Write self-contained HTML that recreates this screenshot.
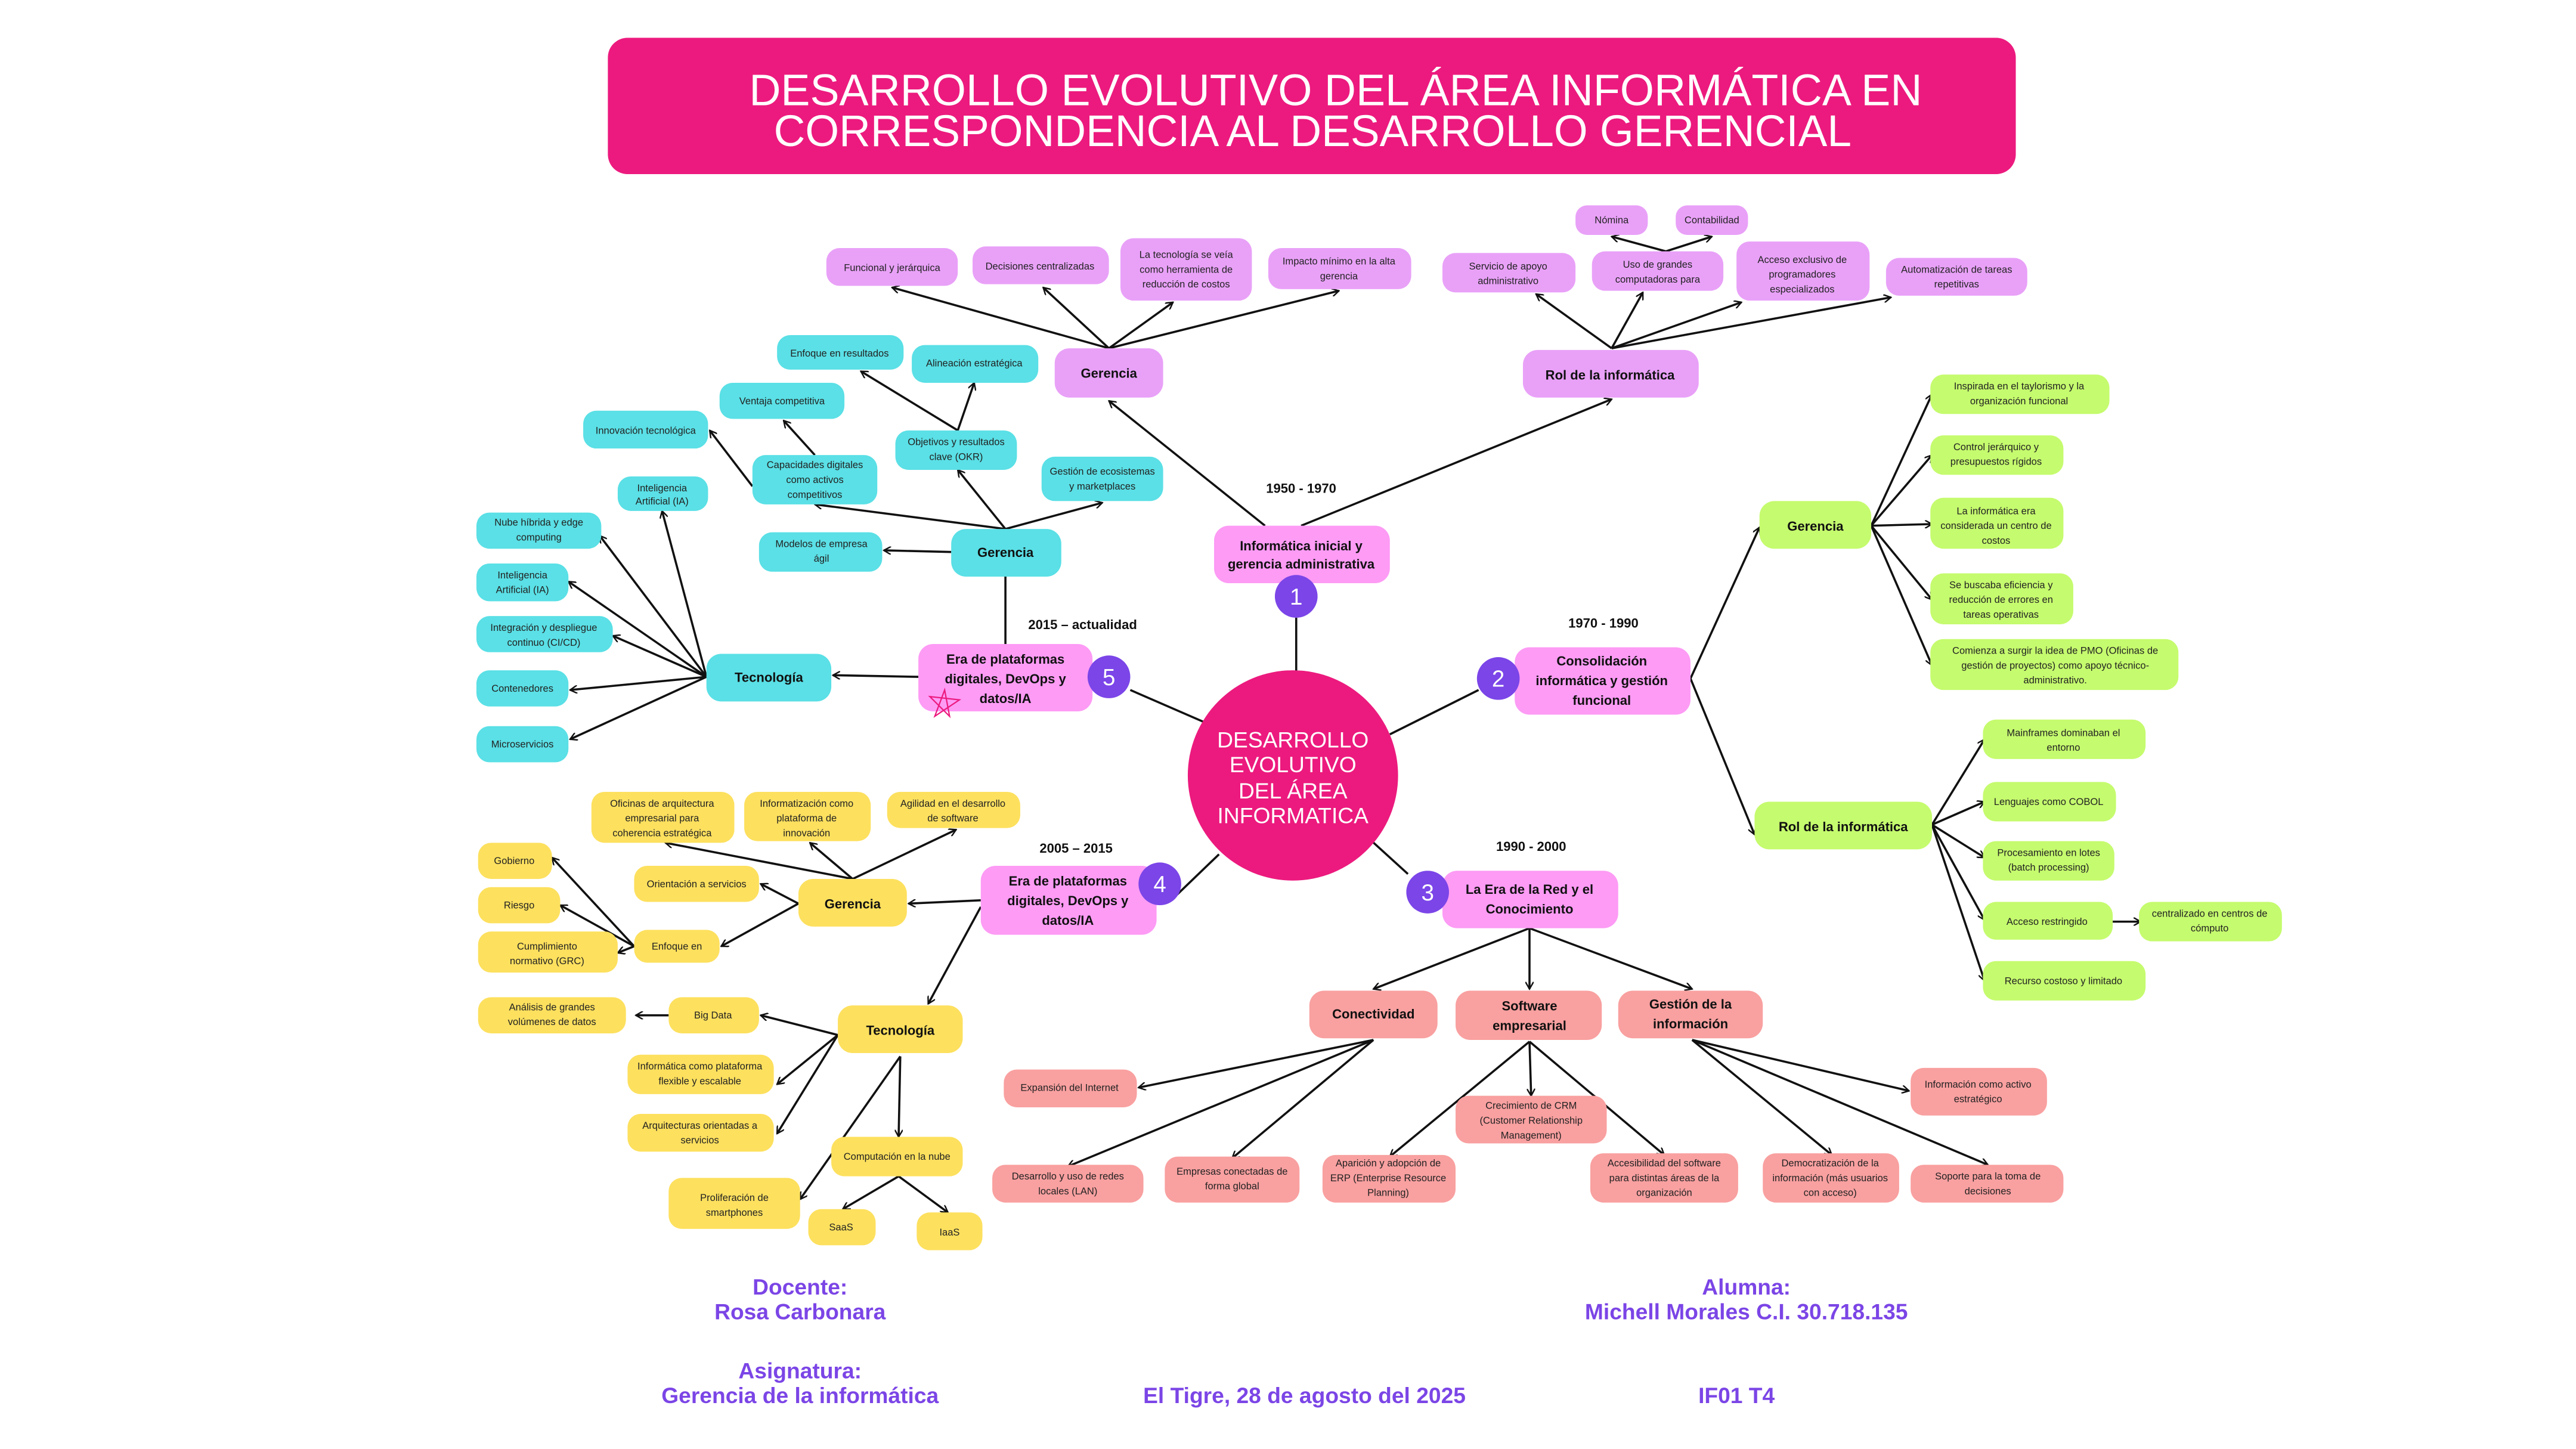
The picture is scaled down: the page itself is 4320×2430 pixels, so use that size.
<!DOCTYPE html>
<html><head><meta charset="utf-8"><style>
html,body{margin:0;padding:0;background:#fff;width:4320px;height:2430px;overflow:hidden}
svg{display:block}
text{font-family:"Liberation Sans",sans-serif;text-anchor:middle}
.s{font-size:6px;fill:#222}
.b{font-size:8px;font-weight:bold;fill:#111}
.n{font-size:11px;fill:#fff;font-weight:bold}
.f{font-size:13.5px;font-weight:bold;fill:#7b45e6}
line,path.c{stroke:#111;stroke-width:1.3;fill:none}
</style></head><body>
<svg width="4320" height="2430" viewBox="0 0 1568 882" xmlns="http://www.w3.org/2000/svg">
<defs><marker id="a" viewBox="0 0 8 8" refX="7" refY="4" markerWidth="5" markerHeight="5" orient="auto" markerUnits="userSpaceOnUse"><path d="M0,0 L7,4 L0,8" fill="none" stroke="#111" stroke-width="1.4"/></marker></defs>
<rect width="1568" height="882" fill="#fff"/>
<rect x="370" y="23" width="857" height="83" rx="12" fill="#ec1a7e"/>
<text x="813" y="64" style="font-size:27px;fill:#fff" textLength="714" lengthAdjust="spacingAndGlyphs">DESARROLLO EVOLUTIVO DEL ÁREA INFORMÁTICA EN</text>
<text x="799" y="89" style="font-size:27px;fill:#fff" textLength="656" lengthAdjust="spacingAndGlyphs">CORRESPONDENCIA AL DESARROLLO GERENCIAL</text>

<g>
<line x1="789" y1="376" x2="789" y2="414"/>
<line x1="846" y1="447" x2="900" y2="420"/>
<line x1="835" y1="512" x2="857" y2="532"/>
<line x1="742" y1="520" x2="716" y2="545"/>
<line x1="734" y1="440" x2="688" y2="420"/>
<line x1="770" y1="320" x2="675" y2="244" marker-end="url(#a)"/>
<line x1="792" y1="320" x2="981" y2="243" marker-end="url(#a)"/>
<line x1="675" y1="212" x2="543" y2="175" marker-end="url(#a)"/>
<line x1="675" y1="212" x2="635" y2="175" marker-end="url(#a)"/>
<line x1="675" y1="212" x2="714" y2="184" marker-end="url(#a)"/>
<line x1="675" y1="212" x2="815" y2="177" marker-end="url(#a)"/>
<line x1="981" y1="212" x2="935" y2="179" marker-end="url(#a)"/>
<line x1="981" y1="212" x2="1000" y2="178" marker-end="url(#a)"/>
<line x1="981" y1="212" x2="1060" y2="184" marker-end="url(#a)"/>
<line x1="981" y1="212" x2="1151" y2="181" marker-end="url(#a)"/>
<line x1="1014" y1="153" x2="981" y2="144" marker-end="url(#a)"/>
<line x1="1014" y1="153" x2="1042" y2="144" marker-end="url(#a)"/>
<line x1="1029" y1="413" x2="1071" y2="321" marker-end="url(#a)"/>
<line x1="1029" y1="413" x2="1068" y2="508" marker-end="url(#a)"/>
<line x1="1139" y1="320" x2="1176" y2="240" marker-end="url(#a)"/>
<line x1="1139" y1="320" x2="1176" y2="277" marker-end="url(#a)"/>
<line x1="1139" y1="320" x2="1176" y2="319" marker-end="url(#a)"/>
<line x1="1139" y1="320" x2="1176" y2="365" marker-end="url(#a)"/>
<line x1="1139" y1="320" x2="1176" y2="405" marker-end="url(#a)"/>
<line x1="1176" y1="502" x2="1208" y2="450" marker-end="url(#a)"/>
<line x1="1176" y1="502" x2="1208" y2="488" marker-end="url(#a)"/>
<line x1="1176" y1="502" x2="1208" y2="522" marker-end="url(#a)"/>
<line x1="1176" y1="502" x2="1208" y2="560" marker-end="url(#a)"/>
<line x1="1176" y1="502" x2="1208" y2="597" marker-end="url(#a)"/>
<line x1="1286" y1="561" x2="1303" y2="561" marker-end="url(#a)"/>
<line x1="931" y1="565" x2="836" y2="602" marker-end="url(#a)"/>
<line x1="931" y1="565" x2="931" y2="602" marker-end="url(#a)"/>
<line x1="931" y1="565" x2="1030" y2="602" marker-end="url(#a)"/>
<line x1="836" y1="633" x2="693" y2="662" marker-end="url(#a)"/>
<line x1="836" y1="633" x2="650" y2="710" marker-end="url(#a)"/>
<line x1="836" y1="633" x2="750" y2="705" marker-end="url(#a)"/>
<line x1="931" y1="634" x2="932" y2="667" marker-end="url(#a)"/>
<line x1="931" y1="634" x2="846" y2="704" marker-end="url(#a)"/>
<line x1="931" y1="634" x2="1013" y2="703" marker-end="url(#a)"/>
<line x1="1030" y1="633" x2="1115" y2="703" marker-end="url(#a)"/>
<line x1="1030" y1="633" x2="1210" y2="709" marker-end="url(#a)"/>
<line x1="1030" y1="633" x2="1162" y2="664" marker-end="url(#a)"/>
<line x1="597" y1="548" x2="553" y2="550" marker-end="url(#a)"/>
<line x1="597" y1="552" x2="565" y2="611" marker-end="url(#a)"/>
<line x1="519" y1="535" x2="405" y2="513" marker-end="url(#a)"/>
<line x1="519" y1="535" x2="493" y2="513" marker-end="url(#a)"/>
<line x1="519" y1="535" x2="582" y2="505" marker-end="url(#a)"/>
<line x1="486" y1="550" x2="463" y2="538" marker-end="url(#a)"/>
<line x1="486" y1="550" x2="439" y2="576" marker-end="url(#a)"/>
<line x1="386" y1="576" x2="336" y2="522" marker-end="url(#a)"/>
<line x1="386" y1="576" x2="341" y2="551" marker-end="url(#a)"/>
<line x1="386" y1="576" x2="376" y2="580" marker-end="url(#a)"/>
<line x1="510" y1="630" x2="463" y2="618" marker-end="url(#a)"/>
<line x1="407" y1="618" x2="387" y2="618" marker-end="url(#a)"/>
<line x1="510" y1="630" x2="473" y2="660" marker-end="url(#a)"/>
<line x1="510" y1="630" x2="473" y2="690" marker-end="url(#a)"/>
<line x1="548" y1="643" x2="487" y2="730" marker-end="url(#a)"/>
<line x1="548" y1="643" x2="547" y2="692" marker-end="url(#a)"/>
<line x1="547" y1="716" x2="513" y2="736" marker-end="url(#a)"/>
<line x1="547" y1="716" x2="577" y2="738" marker-end="url(#a)"/>
<line x1="612" y1="392" x2="612" y2="351"/>
<line x1="559" y1="412" x2="507" y2="411" marker-end="url(#a)"/>
<line x1="612" y1="322" x2="496" y2="307" marker-end="url(#a)"/>
<line x1="612" y1="322" x2="583" y2="286" marker-end="url(#a)"/>
<line x1="612" y1="322" x2="671" y2="306" marker-end="url(#a)"/>
<line x1="579" y1="336" x2="538" y2="335" marker-end="url(#a)"/>
<line x1="496" y1="277" x2="477" y2="256" marker-end="url(#a)"/>
<line x1="458" y1="296" x2="432" y2="262" marker-end="url(#a)"/>
<line x1="583" y1="262" x2="524" y2="226" marker-end="url(#a)"/>
<line x1="583" y1="262" x2="593" y2="233" marker-end="url(#a)"/>
<line x1="430" y1="412" x2="365" y2="326" marker-end="url(#a)"/>
<line x1="430" y1="412" x2="403" y2="311" marker-end="url(#a)"/>
<line x1="430" y1="412" x2="346" y2="354" marker-end="url(#a)"/>
<line x1="430" y1="412" x2="373" y2="387" marker-end="url(#a)"/>
<line x1="430" y1="412" x2="347" y2="420" marker-end="url(#a)"/>
<line x1="430" y1="412" x2="347" y2="450" marker-end="url(#a)"/>
</g>

<circle cx="787" cy="472" r="64" fill="#ec1a7e"/>
<g style="font-size:13.5px;fill:#fff">
<text x="787" y="455">DESARROLLO</text><text x="787" y="470">EVOLUTIVO</text><text x="787" y="486">DEL ÁREA</text><text x="787" y="501">INFORMATICA</text></g>

<g fill="#fd9bf5">
<rect x="739" y="320" width="107" height="35" rx="9"/>
<rect x="922" y="394" width="107" height="41" rx="9"/>
<rect x="878" y="530" width="107" height="35" rx="9"/>
<rect x="597" y="527" width="107" height="42" rx="9"/>
<rect x="559" y="392" width="106" height="41" rx="9"/>
</g>
<g fill="#7b45e8">
<circle cx="789" cy="363" r="13"/><circle cx="912" cy="413" r="13"/><circle cx="869" cy="543" r="13"/><circle cx="706" cy="538" r="13"/><circle cx="675" cy="412" r="13"/></g>
<g>
<text x="789" y="368" class="n" style="font-weight:normal;font-size:14px">1</text><text x="912" y="418" class="n" style="font-weight:normal;font-size:14px">2</text><text x="869" y="548" class="n" style="font-weight:normal;font-size:14px">3</text><text x="706" y="543" class="n" style="font-weight:normal;font-size:14px">4</text><text x="675" y="417" class="n" style="font-weight:normal;font-size:14px">5</text></g>
<g>
<text x="792" y="335" class="b">Informática inicial y</text><text x="792" y="346" class="b">gerencia administrativa</text>
<text x="975" y="405" class="b">Consolidación</text><text x="975" y="417" class="b">informática y gestión</text><text x="975" y="429" class="b">funcional</text>
<text x="931" y="544" class="b">La Era de la Red y el</text><text x="931" y="556" class="b">Conocimiento</text>
<text x="650" y="539" class="b">Era de plataformas</text><text x="650" y="551" class="b">digitales, DevOps y</text><text x="650" y="563" class="b">datos/IA</text>
<text x="612" y="404" class="b">Era de plataformas</text><text x="612" y="416" class="b">digitales, DevOps y</text><text x="612" y="428" class="b">datos/IA</text>
<text x="792" y="300" class="b">1950 - 1970</text>
<text x="976" y="382" class="b">1970 - 1990</text>
<text x="932" y="518" class="b">1990 - 2000</text>
<text x="655" y="519" class="b">2005 – 2015</text>
<text x="659" y="383" class="b">2015 – actualidad</text>
</g>
<path d="M569,436 L575,420 L578,436 L566,424 L584,426 Z" fill="none" stroke="#ec1a7e" stroke-width="0.8"/>

<g fill="#e9a1f8">
<rect x="642" y="212" width="66" height="30" rx="9"/>
<rect x="927" y="213" width="107" height="29" rx="9"/>
<rect x="503" y="151" width="80" height="23" rx="8"/>
<rect x="592" y="150" width="83" height="23" rx="8"/>
<rect x="682" y="145" width="80" height="38" rx="8"/>
<rect x="772" y="151" width="87" height="25" rx="8"/>
<rect x="878" y="154" width="81" height="24" rx="8"/>
<rect x="969" y="153" width="80" height="24" rx="8"/>
<rect x="1057" y="147" width="81" height="36" rx="8"/>
<rect x="1148" y="157" width="86" height="23" rx="8"/>
<rect x="959" y="125" width="44" height="18" rx="7"/>
<rect x="1020" y="125" width="44" height="18" rx="7"/>
</g>
<text x="675" y="230" class="b">Gerencia</text>
<text x="980" y="231" class="b">Rol de la informática</text>
<g>
<text x="543" y="165" class="s">Funcional y jerárquica</text>
<text x="633" y="164" class="s">Decisiones centralizadas</text>
<text x="722" y="157" class="s">La tecnología se veía</text><text x="722" y="166" class="s">como herramienta de</text><text x="722" y="175" class="s">reducción de costos</text>
<text x="815" y="161" class="s">Impacto mínimo en la alta</text><text x="815" y="170" class="s">gerencia</text>
<text x="918" y="164" class="s">Servicio de apoyo</text><text x="918" y="173" class="s">administrativo</text>
<text x="1009" y="163" class="s">Uso de grandes</text><text x="1009" y="172" class="s">computadoras para</text>
<text x="1097" y="160" class="s">Acceso exclusivo de</text><text x="1097" y="169" class="s">programadores</text><text x="1097" y="178" class="s">especializados</text>
<text x="1191" y="166" class="s">Automatización de tareas</text><text x="1191" y="175" class="s">repetitivas</text>
<text x="981" y="136" class="s">Nómina</text>
<text x="1042" y="136" class="s">Contabilidad</text>
</g>

<g fill="#c5fb6e">
<rect x="1071" y="305" width="68" height="29" rx="9"/>
<rect x="1068" y="488" width="108" height="29" rx="9"/>
<rect x="1175" y="228" width="109" height="24" rx="8"/>
<rect x="1175" y="265" width="81" height="24" rx="8"/>
<rect x="1175" y="303" width="81" height="31" rx="8"/>
<rect x="1175" y="349" width="87" height="31" rx="8"/>
<rect x="1175" y="389" width="151" height="31" rx="8"/>
<rect x="1207" y="438" width="99" height="24" rx="8"/>
<rect x="1207" y="476" width="81" height="24" rx="8"/>
<rect x="1207" y="512" width="80" height="24" rx="8"/>
<rect x="1207" y="549" width="79" height="23" rx="8"/>
<rect x="1207" y="585" width="99" height="24" rx="8"/>
<rect x="1302" y="549" width="87" height="24" rx="8"/>
</g>
<text x="1105" y="323" class="b">Gerencia</text>
<text x="1122" y="506" class="b">Rol de la informática</text>
<g>
<text x="1229" y="237" class="s">Inspirada en el taylorismo y la</text><text x="1229" y="246" class="s">organización funcional</text>
<text x="1215" y="274" class="s">Control jerárquico y</text><text x="1215" y="283" class="s">presupuestos rígidos</text>
<text x="1215" y="313" class="s">La informática era</text><text x="1215" y="322" class="s">considerada un centro de</text><text x="1215" y="331" class="s">costos</text>
<text x="1218" y="358" class="s">Se buscaba eficiencia y</text><text x="1218" y="367" class="s">reducción de errores en</text><text x="1218" y="376" class="s">tareas operativas</text>
<text x="1251" y="398" class="s">Comienza a surgir la idea de PMO (Oficinas de</text><text x="1251" y="407" class="s">gestión de proyectos) como apoyo técnico-</text><text x="1251" y="416" class="s">administrativo.</text>
<text x="1256" y="448" class="s">Mainframes dominaban el</text><text x="1256" y="457" class="s">entorno</text>
<text x="1247" y="490" class="s">Lenguajes como COBOL</text>
<text x="1247" y="521" class="s">Procesamiento en lotes</text><text x="1247" y="530" class="s">(batch processing)</text>
<text x="1246" y="563" class="s">Acceso restringido</text>
<text x="1256" y="599" class="s">Recurso costoso y limitado</text>
<text x="1345" y="558" class="s">centralizado en centros de</text><text x="1345" y="567" class="s">cómputo</text>
</g>

<g fill="#f9a0a0">
<rect x="797" y="603" width="78" height="29" rx="9"/>
<rect x="886" y="603" width="89" height="30" rx="9"/>
<rect x="985" y="603" width="88" height="29" rx="9"/>
<rect x="611" y="651" width="81" height="23" rx="8"/>
<rect x="604" y="709" width="92" height="23" rx="8"/>
<rect x="709" y="704" width="82" height="28" rx="8"/>
<rect x="886" y="667" width="92" height="29" rx="8"/>
<rect x="805" y="703" width="81" height="29" rx="8"/>
<rect x="968" y="702" width="90" height="30" rx="8"/>
<rect x="1073" y="702" width="83" height="30" rx="8"/>
<rect x="1163" y="709" width="93" height="23" rx="8"/>
<rect x="1163" y="650" width="83" height="29" rx="8"/>
</g>
<text x="836" y="620" class="b">Conectividad</text>
<text x="931" y="615" class="b">Software</text><text x="931" y="627" class="b">empresarial</text>
<text x="1029" y="614" class="b">Gestión de la</text><text x="1029" y="626" class="b">información</text>
<g>
<text x="651" y="664" class="s">Expansión del Internet</text>
<text x="650" y="718" class="s">Desarrollo y uso de redes</text><text x="650" y="727" class="s">locales (LAN)</text>
<text x="750" y="715" class="s">Empresas conectadas de</text><text x="750" y="724" class="s">forma global</text>
<text x="932" y="675" class="s">Crecimiento de CRM</text><text x="932" y="684" class="s">(Customer Relationship</text><text x="932" y="693" class="s">Management)</text>
<text x="845" y="710" class="s">Aparición y adopción de</text><text x="845" y="719" class="s">ERP (Enterprise Resource</text><text x="845" y="728" class="s">Planning)</text>
<text x="1013" y="710" class="s">Accesibilidad del software</text><text x="1013" y="719" class="s">para distintas áreas de la</text><text x="1013" y="728" class="s">organización</text>
<text x="1114" y="710" class="s">Democratización de la</text><text x="1114" y="719" class="s">información (más usuarios</text><text x="1114" y="728" class="s">con acceso)</text>
<text x="1210" y="718" class="s">Soporte para la toma de</text><text x="1210" y="727" class="s">decisiones</text>
<text x="1204" y="662" class="s">Información como activo</text><text x="1204" y="671" class="s">estratégico</text>
</g>

<g fill="#fde05e">
<rect x="486" y="535" width="66" height="29" rx="9"/>
<rect x="510" y="612" width="76" height="29" rx="9"/>
<rect x="360" y="482" width="87" height="31" rx="8"/>
<rect x="453" y="482" width="77" height="30" rx="8"/>
<rect x="540" y="482" width="81" height="22" rx="8"/>
<rect x="386" y="527" width="76" height="22" rx="8"/>
<rect x="386" y="566" width="52" height="20" rx="8"/>
<rect x="291" y="513" width="45" height="22" rx="8"/>
<rect x="291" y="540" width="50" height="22" rx="8"/>
<rect x="291" y="567" width="85" height="25" rx="8"/>
<rect x="407" y="607" width="55" height="22" rx="8"/>
<rect x="291" y="607" width="90" height="22" rx="8"/>
<rect x="382" y="642" width="89" height="24" rx="8"/>
<rect x="382" y="678" width="89" height="23" rx="8"/>
<rect x="407" y="717" width="80" height="31" rx="8"/>
<rect x="506" y="692" width="80" height="24" rx="8"/>
<rect x="492" y="736" width="41" height="22" rx="8"/>
<rect x="558" y="738" width="40" height="23" rx="8"/>
</g>
<text x="519" y="553" class="b">Gerencia</text>
<text x="548" y="630" class="b">Tecnología</text>
<g>
<text x="403" y="491" class="s">Oficinas de arquitectura</text><text x="403" y="500" class="s">empresarial para</text><text x="403" y="509" class="s">coherencia estratégica</text>
<text x="491" y="491" class="s">Informatización como</text><text x="491" y="500" class="s">plataforma de</text><text x="491" y="509" class="s">innovación</text>
<text x="580" y="491" class="s">Agilidad en el desarrollo</text><text x="580" y="500" class="s">de software</text>
<text x="424" y="540" class="s">Orientación a servicios</text>
<text x="412" y="578" class="s">Enfoque en</text>
<text x="313" y="526" class="s">Gobierno</text>
<text x="316" y="553" class="s">Riesgo</text>
<text x="333" y="578" class="s">Cumplimiento</text><text x="333" y="587" class="s">normativo (GRC)</text>
<text x="434" y="620" class="s">Big Data</text>
<text x="336" y="615" class="s">Análisis de grandes</text><text x="336" y="624" class="s">volúmenes de datos</text>
<text x="426" y="651" class="s">Informática como plataforma</text><text x="426" y="660" class="s">flexible y escalable</text>
<text x="426" y="687" class="s">Arquitecturas orientadas a</text><text x="426" y="696" class="s">servicios</text>
<text x="447" y="731" class="s">Proliferación de</text><text x="447" y="740" class="s">smartphones</text>
<text x="546" y="706" class="s">Computación en la nube</text>
<text x="512" y="749" class="s">SaaS</text>
<text x="578" y="752" class="s">IaaS</text>
</g>

<g fill="#5ae0e6">
<rect x="579" y="322" width="67" height="29" rx="9"/>
<rect x="430" y="398" width="76" height="29" rx="9"/>
<rect x="458" y="277" width="76" height="30" rx="8"/>
<rect x="545" y="262" width="74" height="24" rx="8"/>
<rect x="634" y="278" width="74" height="27" rx="8"/>
<rect x="462" y="324" width="75" height="24" rx="8"/>
<rect x="438" y="233" width="76" height="22" rx="8"/>
<rect x="355" y="250" width="76" height="23" rx="8"/>
<rect x="473" y="204" width="77" height="21" rx="8"/>
<rect x="555" y="210" width="77" height="23" rx="8"/>
<rect x="290" y="312" width="76" height="22" rx="8"/>
<rect x="376" y="290" width="55" height="21" rx="8"/>
<rect x="290" y="343" width="56" height="23" rx="8"/>
<rect x="290" y="375" width="83" height="22" rx="8"/>
<rect x="290" y="408" width="56" height="22" rx="8"/>
<rect x="290" y="442" width="56" height="22" rx="8"/>
</g>
<text x="612" y="339" class="b">Gerencia</text>
<text x="468" y="415" class="b">Tecnología</text>
<g>
<text x="496" y="285" class="s">Capacidades digitales</text><text x="496" y="294" class="s">como activos</text><text x="496" y="303" class="s">competitivos</text>
<text x="582" y="271" class="s">Objetivos y resultados</text><text x="582" y="280" class="s">clave (OKR)</text>
<text x="671" y="289" class="s">Gestión de ecosistemas</text><text x="671" y="298" class="s">y marketplaces</text>
<text x="500" y="333" class="s">Modelos de empresa</text><text x="500" y="342" class="s">ágil</text>
<text x="476" y="246" class="s">Ventaja competitiva</text>
<text x="393" y="264" class="s">Innovación tecnológica</text>
<text x="511" y="217" class="s">Enfoque en resultados</text>
<text x="593" y="223" class="s">Alineación estratégica</text>
<text x="328" y="320" class="s">Nube híbrida y edge</text><text x="328" y="329" class="s">computing</text>
<text x="403" y="299" class="s">Inteligencia</text><text x="403" y="307" class="s">Artificial (IA)</text>
<text x="318" y="352" class="s">Inteligencia</text><text x="318" y="361" class="s">Artificial (IA)</text>
<text x="331" y="384" class="s">Integración y despliegue</text><text x="331" y="393" class="s">continuo (CI/CD)</text>
<text x="318" y="421" class="s">Contenedores</text>
<text x="318" y="455" class="s">Microservicios</text>
</g>

<g>
<text x="487" y="788" class="f">Docente:</text>
<text x="487" y="803" class="f">Rosa Carbonara</text>
<text x="487" y="839" class="f">Asignatura:</text>
<text x="487" y="854" class="f">Gerencia de la informática</text>
<text x="794" y="854" class="f">El Tigre, 28 de agosto del 2025</text>
<text x="1063" y="788" class="f">Alumna:</text>
<text x="1063" y="803" class="f">Michell Morales C.I. 30.718.135</text>
<text x="1057" y="854" class="f">IF01 T4</text>
</g>
</svg>
</body></html>
